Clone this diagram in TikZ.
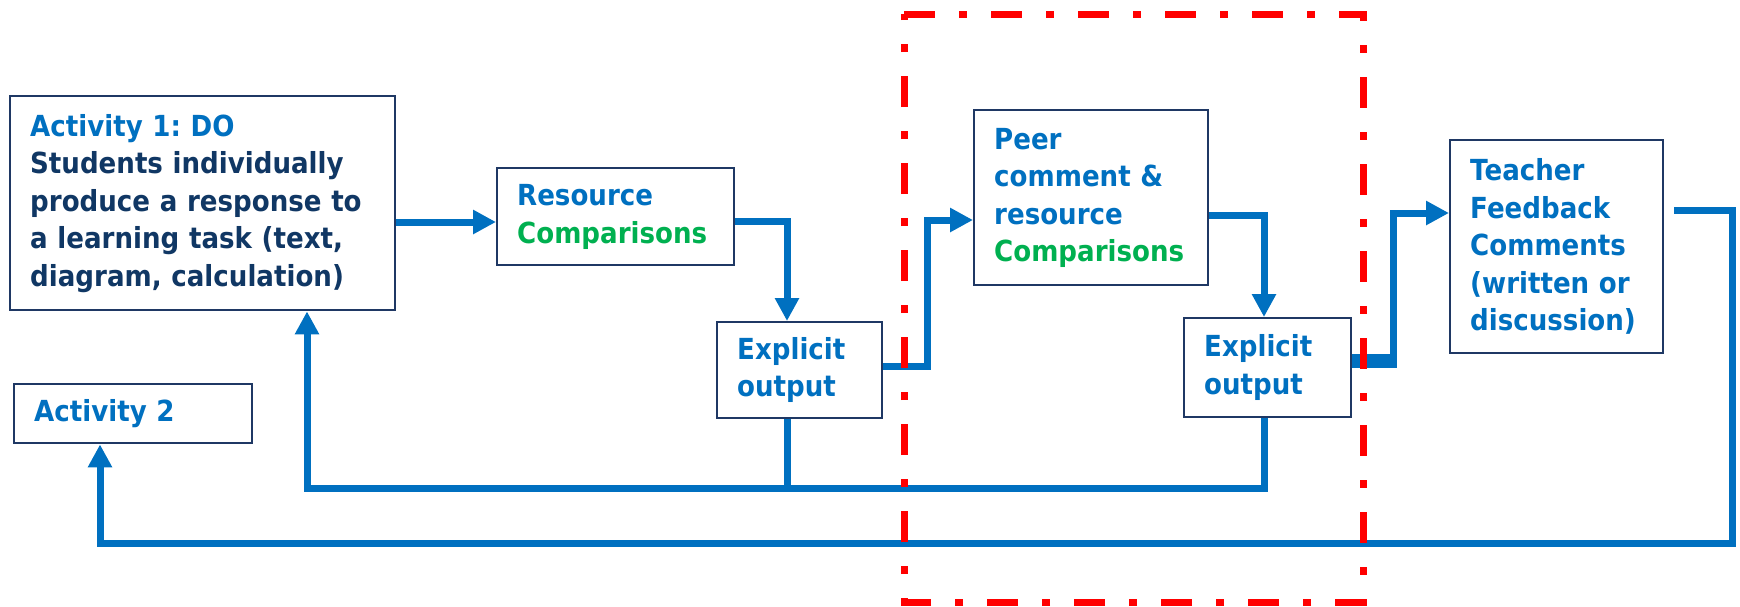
\documentclass[tikz,border=0pt]{standalone}
\usepackage{fontspec}
\setmainfont{DejaVu Sans}[FakeStretch=0.9]
\usetikzlibrary{arrows.meta}
\definecolor{cblue}{RGB}{0,112,192}
\definecolor{cgreen}{RGB}{0,176,80}
\definecolor{cnavy}{RGB}{31,56,100}
\definecolor{cdark}{RGB}{16,55,100}
\definecolor{cred}{RGB}{255,0,0}
\hyphenpenalty=10000 \exhyphenpenalty=10000
\frenchspacing
\begin{document}
\begin{tikzpicture}[x=0.5pt,y=-0.5pt,
  box/.style={draw=cnavy, line width=1.2pt, fill=white, anchor=north west,
    inner xsep=10pt, inner ysep=0pt, align=left, text=cblue,
    font=\bfseries\fontsize{14.5}{18.75}\selectfont},
  conn/.style={draw=cblue, line width=3.5pt},
  tip/.style={-{Triangle[length=11.5pt,width=11.5pt]}},
  zone/.style={draw=cred, line width=3.5pt, dash pattern=on 15.5pt off 12pt on 4pt off 12pt}
]
\useasboundingbox (0,0) rectangle (1740,606);

% boxes
\node[box, text width=172.5pt, minimum height=107pt] (a1) at (9,95)
  {Activity 1: DO\\\color{cdark}Students individually\\produce a response to\\a learning task (text,\\diagram, calculation)};
\node[box, text width=98.5pt, minimum height=48.5pt] (res) at (496,167)
  {Resource\\\textcolor{cgreen}{Comparisons}};
\node[box, text width=62.5pt, minimum height=48pt] (ex1) at (716,321)
  {Explicit\\output};
\node[box, text width=97pt, minimum height=87.5pt] (peer) at (973,109)
  {Peer\\comment \&\\resource\\\textcolor{cgreen}{Comparisons}};
\node[box, text width=63.5pt, minimum height=49.5pt] (ex2) at (1183,317)
  {Explicit\\output};
\node[box, text width=86.5pt, minimum height=106.5pt] (teach) at (1449,139)
  {Teacher\\Feedback\\Comments\\(written or\\discussion)};
\node[box, text width=99pt, minimum height=29.5pt] (a2) at (13,383)
  {Activity 2};

% bend points
\coordinate (r1) at (492,222);
\coordinate (b1) at (787,221);
\coordinate (c1) at (927,366);
\coordinate (c2) at (927,220);
\coordinate (d1) at (1264,215);
\coordinate (e1) at (1393,361);
\coordinate (e2) at (1393,213);
\coordinate (f1) at (1732,210);
\coordinate (f2) at (1732,543);
\coordinate (f3) at (100,543);
\coordinate (g1) at (1264,488);
\coordinate (g2) at (307,488);
\coordinate (g3) at (787,488);

% connectors
\draw[conn,tip] (a1.east |- r1) -- (res.west |- r1);
\draw[conn,tip] (res.east |- b1) -- (b1) -- (b1 |- ex1.north);
\draw[conn,tip] (ex1.east |- c1) -- (c1) -- (c2) -- (peer.west |- c2);
\draw[conn,tip] (peer.east |- d1) -- (d1) -- (d1 |- ex2.north);
\draw[cblue, line width=7pt] (ex2.east |- e1) -- ([xshift=1.75pt]e1);
\draw[conn,tip] (ex2.east |- e1) -- (e1) -- (e2) -- (teach.west |- e2);
\draw[conn,tip] ([xshift=5pt]teach.east |- f1) -- (f1) -- (f2) -- (f3) -- (f3 |- a2.south);
\draw[conn,tip] (g1 |- ex2.south) -- (g1) -- (g2) -- (g2 |- a1.south);
\draw[conn] (g3 |- ex1.south) -- (g3);

% dashed zone
\draw[zone] (904,14) -- (1363,14) -- (1363,602) -- (904,602) -- cycle;
\end{tikzpicture}
\end{document}
